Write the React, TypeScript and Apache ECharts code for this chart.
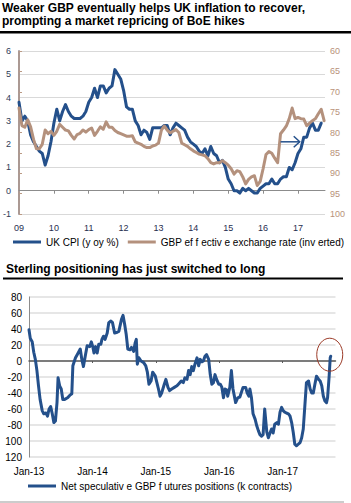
import React, { useEffect, useRef } from 'react';
import * as echarts from 'echarts';

const FONT = '"Liberation Sans", Arial, Helvetica, sans-serif';

// ---------- Top chart: monthly, index 0 = Jan 2009 ----------
const cpiYoY = [
  3.8, 3.0, 3.2, 3.0, 2.4, 2.1, 1.9, 1.7, 1.6, 1.1, 1.5, 2.1,
  2.9, 3.5, 3.0, 3.4, 3.7, 3.4, 3.2, 3.1, 3.1, 3.1, 3.2, 3.4,
  3.8, 4.0, 4.4, 4.0, 4.5, 4.5, 4.2, 4.4, 4.5, 5.2, 5.0, 4.8,
  4.3, 3.6, 3.5, 3.5, 3.0, 2.8, 2.4, 2.6, 2.5, 2.2, 2.7, 2.7,
  2.7, 2.7, 2.8, 2.8, 2.4, 2.7, 2.9, 2.8, 2.7, 2.6, 2.3, 2.1,
  2.0, 1.9, 1.7, 1.6, 1.8, 1.5, 1.9, 1.6, 1.5, 1.2, 1.3, 1.0,
  0.5, 0.3, 0.0, 0.0, -0.1, 0.1, 0.0, 0.1, 0.0, -0.1, -0.1, 0.1,
  0.2, 0.3, 0.3, 0.5, 0.3, 0.3, 0.5, 0.6, 0.6, 1.0, 0.9, 1.2,
  1.6, 1.8, 2.3, 2.3, 2.7, 2.9, 2.6, 2.6, 2.9,
];

const gbpEri = [
  74.0, 78.3, 78.7, 76.9, 78.6, 81.7, 84.0, 84.0, 82.9, 79.4, 80.3, 79.7,
  80.7, 79.7, 78.0, 78.7, 79.4, 79.6, 80.7, 81.6, 80.5, 80.2, 79.4, 79.9,
  79.3, 78.9, 80.7, 79.7, 78.6, 79.2, 77.4, 78.7, 78.7, 79.5, 80.0, 80.3,
  80.6, 80.9, 80.9, 80.8, 82.3, 82.6, 82.9, 83.4, 83.7, 83.7, 83.3, 83.1,
  82.6, 79.4, 78.4, 79.4, 80.1, 79.7, 79.3, 80.0, 82.6, 83.0, 83.4, 84.0,
  84.5, 84.9, 85.3, 85.5, 85.7, 86.4, 87.4, 87.7, 87.4, 87.4, 86.9, 87.4,
  88.0, 88.9, 90.2, 89.4, 89.6, 90.9, 92.6, 91.5, 90.9, 90.6, 93.0, 92.0,
  88.9, 85.4, 84.7, 85.1, 86.3, 87.4, 80.3, 79.4, 78.4, 76.6, 74.0, 76.6,
  76.3, 76.6, 76.7, 78.3, 77.7, 77.1, 76.6, 75.4, 74.3, 77.1,
];

const topYearLabels = ['09', '10', '11', '12', '13', '14', '15', '16', '17'];
const arrowFrom = [90, 2.1];
const arrowTo = [96.6, 2.1];

// ---------- Bottom chart: months since Jan 2013 ----------
const cftcMonth = [
  0, 0.25, 0.6, 0.9, 1.2, 1.5, 1.8, 2.1, 2.5, 2.8,
  3.2, 3.5, 3.8, 4.1, 4.4, 4.7, 5.0, 5.3, 5.5, 5.8,
  6.1, 6.4, 6.75, 7.3, 7.7, 8.1, 8.3, 8.8, 9.3, 9.7,
  10.0, 10.3, 10.7, 11.0, 11.5, 11.8, 12.1, 12.3, 12.6, 12.9,
  13.2, 13.6, 13.8, 14.1, 14.4, 14.8, 15.1, 15.5, 15.8, 16.2,
  16.7, 17.0, 17.5, 17.8, 18.1, 18.4, 18.7, 19.1, 19.4, 19.8,
  20.1, 20.3, 20.5, 20.8, 21.2, 21.7, 22.1, 22.4, 22.7, 23.1,
  23.4, 23.9, 24.2, 24.5, 24.8, 25.1, 25.6, 25.9, 26.3, 26.6,
  27.0, 27.5, 28.0, 28.4, 28.8, 29.2, 29.5, 29.9, 30.2, 30.5,
  30.8, 31.1, 31.4, 31.8, 32.1, 32.4, 32.7, 33.0, 33.3, 33.6,
  34.0, 34.3, 34.6, 34.9, 35.2, 35.5, 35.9, 36.2, 36.5, 36.8,
  37.1, 37.4, 37.6, 38.0, 38.3, 38.6, 39.1, 39.5, 39.9, 40.5,
  41.0, 41.3, 41.6, 41.8, 42.1, 42.4, 42.8, 43.1, 43.4, 43.7,
  44.0, 44.3, 44.6, 45.0, 45.3, 45.6, 45.9, 46.2, 46.5, 46.9,
  47.2, 47.5, 47.8, 48.1, 48.4, 48.7, 49.1, 49.4, 49.7, 50.0,
  50.3, 50.6, 50.96, 51.3, 51.6, 51.9, 52.2, 52.5, 52.9, 53.2,
  53.5, 53.8, 54.1, 54.4, 54.8, 55.1, 55.4, 55.7, 56.0, 56.3,
  56.5, 56.8, 57.0, 57.1,
];

const cftcValue = [
  39, 28, 24, 11, 2, -12, -31, -48, -62, -66,
  -65, -69, -60, -57, -66, -77, -75, -52, -21, -31,
  -35, -48, -48, -46, -43, -41, -6, 4, 10, 15,
  2, -7, 8, 19, 18, 24, 17, 10, 18, 10,
  21, 21, 27, 31, 27, 35, 48, 50, 48, 35,
  36, 37, 52, 57, 46, 33, 15, 14, 17, 12,
  23, 27, -4, 4, 0, -2, -6, -14, -29, -25,
  -14, -19, -27, -35, -44, -40, -29, -23, -33, -37,
  -35, -33, -31, -28, -25, -27, -21, -23, -12, -17,
  -7, -12, -4, 4, -6, 2, -1, 0, 6, 8,
  2, -17, -29, -27, -17, -23, -29, -29, -33, -46,
  -35, -36, -44, -33, -12, -35, -52, -46, -45, -33,
  -33, -40, -44, -35, -46, -66, -73, -81, -87, -92,
  -94, -92, -60, -89, -96, -90, -85, -90, -79, -77,
  -79, -64, -58, -62, -64, -65, -66, -69, -77, -89,
  -104, -106, -104, -102, -96, -85, -56, -27, -25, -35,
  -40, -40, -29, -19, -23, -25, -31, -44, -50, -52,
  -46, -19, 4, 6,
];

const bottomYearLabels = ['Jan-13', 'Jan-14', 'Jan-15', 'Jan-16', 'Jan-17'];

const CPI_NAME = 'UK CPI (y oy %)';
const ERI_NAME = 'GBP ef f ectiv e exchange rate (inv erted)';
const CFTC_NAME = 'Net speculativ e GBP f utures positions (k contracts)';

const BLUE = '#24508b';
const BROWN = '#b4917d';

export default function App() {
  const ref = useRef<HTMLDivElement>(null);

  useEffect(() => {
    const el = ref.current;
    if (!el) return;
    const chart = echarts.init(el, null, { renderer: 'svg' });

    const topTicks = topYearLabels.map((_, i) => i * 12);
    const bottomTicks = bottomYearLabels.map((_, i) => i * 12);

    const option: any = {
      animation: false,
      backgroundColor: '#ffffff',
      textStyle: { fontFamily: FONT },
      title: [
        {
          text: 'Weaker GBP eventually helps UK inflation to recover,\nprompting a market repricing of BoE hikes',
          left: 2,
          top: 1,
          padding: 0,
          textStyle: { fontFamily: FONT, fontSize: 12, fontWeight: 'bold', color: '#000', lineHeight: 13.5 },
        },
        {
          text: 'Sterling positioning has just switched to long',
          left: 6,
          top: 262,
          padding: 0,
          textStyle: { fontFamily: FONT, fontSize: 12, fontWeight: 'bold', color: '#000', lineHeight: 13.5 },
        },
      ],
      legend: [
        {
          data: [CPI_NAME, ERI_NAME],
          left: 13,
          top: 237,
          padding: 0,
          icon: 'rect',
          itemWidth: 28,
          itemHeight: 3,
          itemGap: 9,
          selectedMode: false,
          textStyle: { fontFamily: FONT, fontSize: 10, color: '#000' },
        },
        {
          data: [CFTC_NAME],
          left: 28,
          top: 481,
          padding: 0,
          icon: 'rect',
          itemWidth: 28,
          itemHeight: 3,
          selectedMode: false,
          textStyle: { fontFamily: FONT, fontSize: 10, color: '#000' },
        },
      ],
      grid: [
        { left: 17, top: 51, width: 308, height: 163 },
        { left: 29, top: 297, width: 306.5, height: 160 },
      ],
      xAxis: [
        {
          gridIndex: 0,
          type: 'value',
          min: 0,
          max: 105.3,
          position: 'bottom',
          axisLine: { show: false, onZero: false },
          axisTick: { show: false },
          splitLine: { show: false },
          axisLabel: {
            customValues: topTicks,
            margin: 9,
            fontSize: 9,
            fontFamily: FONT,
            color: '#1f2e4f',
            formatter: (v: number) => (v % 12 === 0 ? topYearLabels[v / 12] ?? '' : ''),
          },
        },
        {
          gridIndex: 0,
          type: 'value',
          min: 0,
          max: 105.3,
          position: 'top',
          axisLine: { show: true, onZero: true, lineStyle: { color: '#8c8c8c', width: 1 } },
          axisTick: {
            show: true,
            inside: true,
            length: 3,
            customValues: topTicks.slice(1),
            lineStyle: { color: '#8c8c8c' },
          },
          axisLabel: { show: false },
          splitLine: { show: false },
        },
        {
          gridIndex: 1,
          type: 'value',
          min: 0,
          max: 58,
          position: 'bottom',
          axisLine: { show: false, onZero: false },
          axisTick: { show: false },
          splitLine: { show: false },
          axisLabel: {
            customValues: bottomTicks,
            margin: 9,
            fontSize: 10,
            fontFamily: FONT,
            color: '#000',
            formatter: (v: number) => (v % 12 === 0 ? bottomYearLabels[v / 12] ?? '' : ''),
          },
        },
        {
          gridIndex: 1,
          type: 'value',
          min: 0,
          max: 58,
          position: 'top',
          axisLine: { show: true, onZero: true, lineStyle: { color: '#595959', width: 1.5 } },
          axisTick: {
            show: true,
            inside: true,
            length: 2,
            customValues: bottomTicks.slice(1),
            lineStyle: { color: '#595959' },
          },
          axisLabel: { show: false },
          splitLine: { show: false },
        },
      ],
      yAxis: [
        {
          gridIndex: 0,
          type: 'value',
          min: -1,
          max: 6,
          interval: 1,
          position: 'left',
          axisLine: { show: true, lineStyle: { color: '#4f74a8', width: 1.5 } },
          axisTick: { show: false },
          axisLabel: { margin: 8, fontSize: 9, fontFamily: FONT, color: '#2f3c58' },
          splitLine: { show: true, lineStyle: { color: '#d9d9d9', width: 1 } },
        },
        {
          gridIndex: 0,
          type: 'value',
          min: 60,
          max: 100,
          interval: 5,
          inverse: true,
          position: 'right',
          axisLine: { show: true, lineStyle: { color: '#bb9a84', width: 1.5 } },
          axisTick: { show: true, length: 3, lineStyle: { color: '#bb9a84' } },
          axisLabel: { margin: 5, fontSize: 9, fontFamily: FONT, color: '#b8927a' },
          splitLine: { show: false },
        },
        {
          gridIndex: 1,
          type: 'value',
          min: -120,
          max: 80,
          interval: 20,
          position: 'left',
          axisLine: { show: true, lineStyle: { color: '#8c8c8c', width: 1 } },
          axisTick: { show: false },
          axisLabel: {
            margin: 7,
            fontSize: 10,
            fontFamily: FONT,
            color: '#000',
            formatter: (v: number) => (v <= -100 ? String(-v) : String(v)),
          },
          splitLine: { show: true, lineStyle: { color: '#dedede', width: 1.5 } },
        },
      ],
      series: [
        {
          name: CPI_NAME,
          type: 'line',
          xAxisIndex: 0,
          yAxisIndex: 0,
          data: cpiYoY.map((v, i) => [i, v]),
          showSymbol: false,
          color: BLUE,
          lineStyle: { width: 3, color: BLUE, join: 'round', cap: 'round' },
        },
        {
          name: ERI_NAME,
          type: 'line',
          xAxisIndex: 0,
          yAxisIndex: 1,
          data: gbpEri.map((v, i) => [i, v]),
          showSymbol: false,
          color: BROWN,
          lineStyle: { width: 3, color: BROWN, join: 'round', cap: 'round' },
        },
        {
          name: CFTC_NAME,
          type: 'line',
          xAxisIndex: 2,
          yAxisIndex: 2,
          data: cftcMonth.map((m, i) => [m, cftcValue[i]]),
          showSymbol: false,
          color: BLUE,
          lineStyle: { width: 3, color: BLUE, join: 'round', cap: 'round' },
        },
      ],
    };

    chart.setOption(option);

    const p1 = chart.convertToPixel({ xAxisIndex: 0, yAxisIndex: 0 }, arrowFrom) as number[];
    const p2 = chart.convertToPixel({ xAxisIndex: 0, yAxisIndex: 0 }, arrowTo) as number[];
    const last = chart.convertToPixel(
      { xAxisIndex: 2, yAxisIndex: 2 },
      [cftcMonth[cftcMonth.length - 1], cftcValue[cftcValue.length - 1]]
    ) as number[];

    chart.setOption({
      graphic: [
        { type: 'rect', shape: { x: 0, y: 31, width: 351, height: 2.5 }, style: { fill: '#000' }, silent: true },
        { type: 'rect', shape: { x: 3, y: 277.5, width: 340, height: 2 }, style: { fill: '#000' }, silent: true },
        { type: 'rect', shape: { x: 0, y: 501.5, width: 344, height: 1 }, style: { fill: '#9a9a9a' }, silent: true },
        {
          type: 'line',
          shape: { x1: p1[0], y1: p1[1], x2: p2[0], y2: p2[1] },
          style: { stroke: BLUE, lineWidth: 1.5 },
          z: 100,
          silent: true,
        },
        {
          type: 'polyline',
          shape: { points: [[p2[0] - 6, p2[1] - 5.5], [p2[0], p2[1]], [p2[0] - 6, p2[1] + 5.5]] },
          style: { stroke: BLUE, lineWidth: 1.5, fill: 'none' },
          z: 100,
          silent: true,
        },
        {
          type: 'ellipse',
          shape: { cx: last[0] - 1, cy: last[1] - 1.5, rx: 13, ry: 16.5 },
          style: { stroke: '#9c3b28', lineWidth: 1, fill: 'none' },
          z: 100,
          silent: true,
        },
      ],
    });

    return () => {
      chart.dispose();
    };
  }, []);

  return (
    <div
      ref={ref}
      style={{ position: 'fixed', left: 0, top: 0, width: 351, height: 503, background: '#fff' }}
    />
  );
}
